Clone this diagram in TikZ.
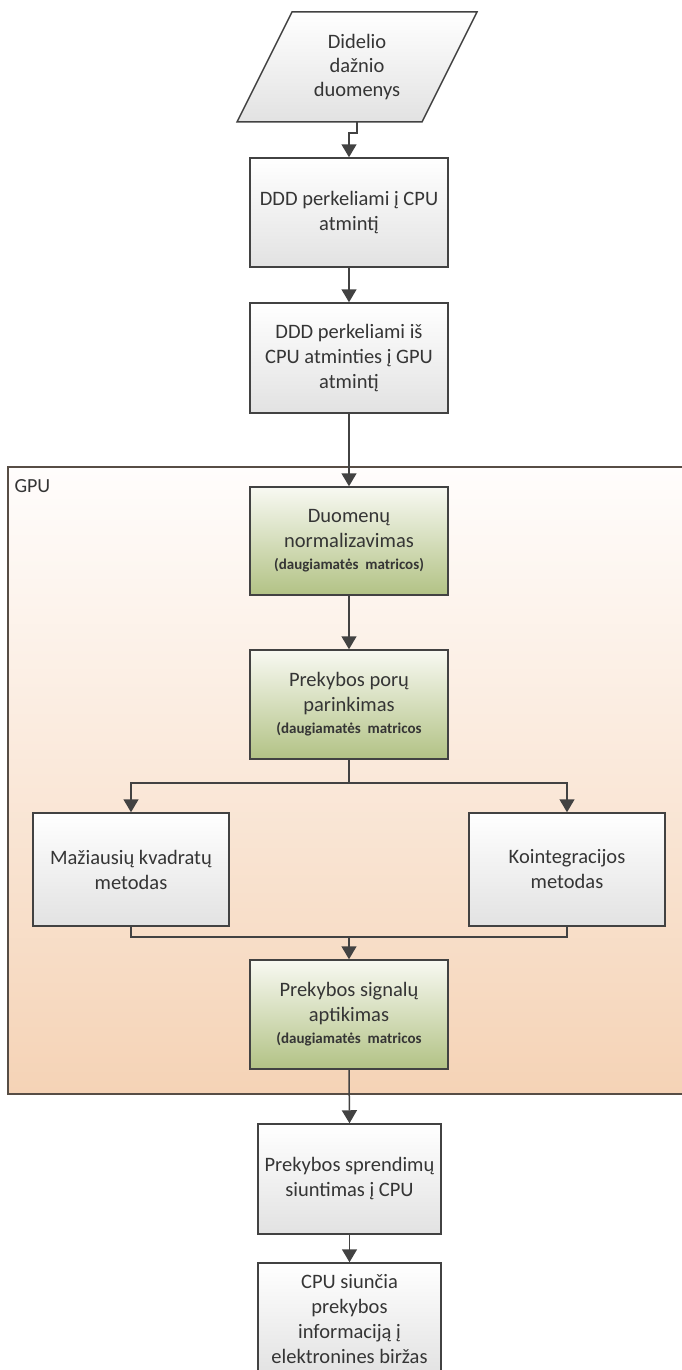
\documentclass[tikz,border=0pt]{standalone}
\usepackage{fontspec}
\setmainfont{Carlito}
\usetikzlibrary{arrows.meta}
\definecolor{edge}{HTML}{424242}
\definecolor{txt}{HTML}{353535}
\definecolor{boxgray}{HTML}{E2E2E2}
\definecolor{greentop}{HTML}{F8F9F2}
\definecolor{greenbot}{HTML}{B2C285}
\definecolor{gputop}{HTML}{FFFDFC}
\definecolor{gpubot}{HTML}{F5D3B6}
\definecolor{gpuedge}{HTML}{574D45}
\begin{document}
\begin{tikzpicture}[x=1pt,y=-1pt,
  plain/.style={draw=edge, line width=1.5pt},
  conn/.style={plain, -{Triangle[width=15pt,length=13pt]}},
  graybox/.style={draw=edge, line width=1.5pt, top color=white, bottom color=boxgray,
    minimum width=198pt, minimum height=109pt, align=center, inner sep=0pt,
    font=\fontsize{20.5}{25}\selectfont, text=txt},
  greenbox/.style={graybox, top color=greentop, bottom color=greenbot}
]
\useasboundingbox (0,0) rectangle (682,1370);
% GPU container
\draw[draw=gpuedge, line width=1.5pt, top color=gputop, bottom color=gpubot]
  (8,467) rectangle (700,1094);
\node[anchor=west, font=\fontsize{20}{25}\selectfont, text=txt] (gpu) at (11,486) {GPU};
% parallelogram input
\draw[plain, top color=white, bottom color=boxgray]
  (292,12) -- (477,12) -- (422,122) -- (237,122) -- cycle;
\node[align=center, font=\fontsize{20.5}{24}\selectfont, text=txt] (p) at (357,67) {Didelio\\dažnio\\duomenys};
\coordinate (pb) at (357,122);
% boxes
\node[graybox] (b1) at (349,212.5) {DDD perkeliami į CPU\\atmintį};
\node[graybox, minimum height=110pt] (b2) at (349,358) {DDD perkeliami iš\\CPU atminties į GPU\\atmintį};
\node[greenbox, minimum height=108pt] (b3) at (349,541) {Duomenų\\normalizavimas\\[-3pt]{\fontsize{15}{18}\selectfont\bfseries (daugiamatės\ \ matricos)}};
\node[greenbox] (b4) at (349,704.5) {Prekybos porų\\parinkimas\\[-3pt]{\fontsize{15}{18}\selectfont\bfseries (daugiamatės\ \ matricos}};
\node[graybox, minimum width=196pt, minimum height=113pt] (left) at (131,869.5) {Mažiausių kvadratų\\metodas};
\node[graybox, minimum width=196pt, minimum height=113pt] (right) at (567,869.5) {Kointegracijos\\metodas};
\node[greenbox] (b5) at (349,1014.5) {Prekybos signalų\\aptikimas\\[-3pt]{\fontsize{15}{18}\selectfont\bfseries (daugiamatės\ \ matricos}};
\node[graybox, minimum width=183pt, minimum height=110pt] (b6) at (349.5,1179) {Prekybos sprendimų\\siuntimas į CPU};
\node[graybox, minimum width=183pt, minimum height=112pt] (b7) at (349.5,1319) {CPU siunčia\\prekybos\\informaciją į\\elektronines biržas};
% connectors
\draw[conn] (pb) -- ++(0,11) -| (b1.north);
\draw[conn] (b1.south) -- (b2.north);
\draw[conn] (b2.south) -- (b3.north);
\draw[conn] (b3.south) -- (b4.north);
\coordinate (br) at (349,783);
\draw[plain] (b4.south) -- (br);
\draw[conn] (br) -| (left.north);
\draw[conn] (br) -| (right.north);
\coordinate (mg) at (349,937);
\draw[plain] (left.south) |- (mg);
\draw[plain] (right.south) |- (mg);
\draw[conn] (mg) -- (b5.north);
\draw[conn] (b5.south) -- (b6.north);
\draw[conn] (b6.south) -- (b7.north);
\end{tikzpicture}
\end{document}
